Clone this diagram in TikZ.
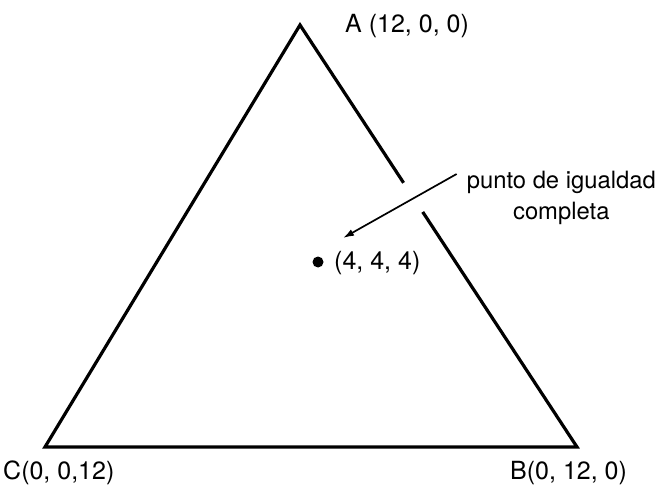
\documentclass[tikz,border=0pt]{standalone}
\usepackage{fontspec}
\setmainfont{TeX Gyre Heros}
\usetikzlibrary{arrows.meta,positioning,calc}

\begin{document}
\begin{tikzpicture}[
  x=1pt,
  y=-1pt,
  edge/.style={line width=3.2pt, line join=miter},
  pointer/.style={line width=1.7pt, -{Latex[length=11pt,width=7pt]}},
  label/.style={font=\fontsize{25}{29}\selectfont, inner sep=0pt},
  note/.style={font=\fontsize{23.8}{27}\selectfont, inner sep=0pt},
  dot/.style={circle, fill=black, inner sep=0pt, minimum size=11pt}
]
\useasboundingbox (0,0) rectangle (660,486);

% vertices
\coordinate (A) at (300,25);
\coordinate (B) at (577,447);
\coordinate (C) at (45,447);
\coordinate (gapTop) at ($(A)!0.374!(B)$);
\coordinate (gapBot) at ($(A)!0.443!(B)$);

% triangle (right side broken where the arrow passes)
\draw[edge] (gapTop) -- (A) -- (C) -- (B) -- (gapBot);

% vertex labels
\node[label, anchor=west] (labA) at (345,26) {A (12, 0, 0)};
\node[label, anchor=west] (labC) at (3,473) {C(0, 0,12)};
\node[label, anchor=west] (labB) at (510,473) {B(0, 12, 0)};

% centre point
\node[dot] (center) at (318,262) {};
\node[label, anchor=west] (labCenter) at (334,263) {(4, 4, 4)};

% annotation
\node[note, anchor=east] (note1) at (656,182) {punto de igualdad};
\node[note, below=8pt of note1] (note2) {completa};
\coordinate (tip) at (343,238);
\draw[pointer] (note1.west) ++(-10,-8) coordinate (tail) -- (tip);
\end{tikzpicture}
\end{document}
